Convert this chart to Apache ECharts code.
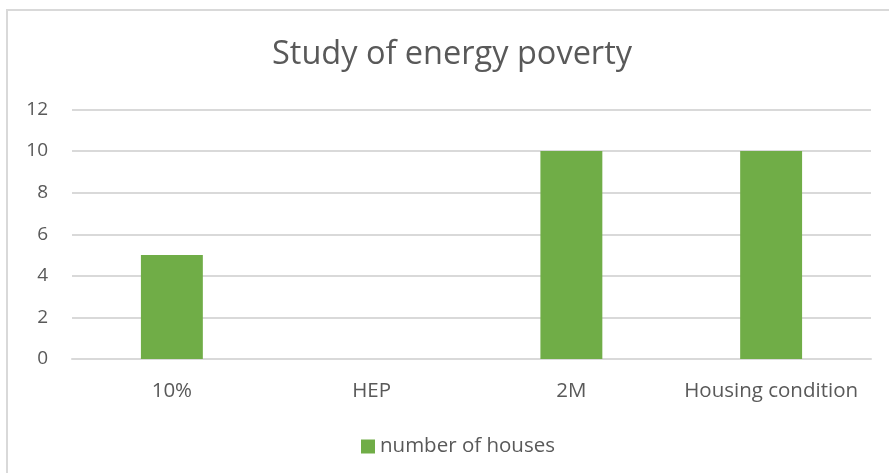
<!DOCTYPE html>
<html>
<head>
<meta charset="utf-8">
<script src="https://cdn.jsdelivr.net/npm/echarts@6/dist/echarts.min.js"></script>
<style>
html,body{margin:0;padding:0;background:#fff;}
#frame{position:absolute;left:6px;top:9px;width:900px;height:480px;border:2px solid #d9d9d9;box-sizing:border-box;}
#chart{position:absolute;left:0;top:0;width:889px;height:473px;}
</style>
</head>
<body>
<div id="frame"></div>
<div id="chart"></div>
<script>
const categories = ['10%', 'HEP', '2M', 'Housing condition'];
const houses = [5, 0, 10, 10];
const seriesName = 'number of houses';
const titleText = 'Study of energy poverty';

const chart = echarts.init(document.getElementById('chart'), null, {renderer: 'canvas'});
const font = '"Open Sans", "Noto Sans", sans-serif';
chart.setOption({
  animation: false,
  backgroundColor: 'transparent',
  title: {
    text: titleText,
    left: 272,
    top: 38,
    padding: 0,
    textStyle: {fontFamily: font, fontSize: 32.5, fontWeight: 'normal', color: '#595959'}
  },
  legend: {
    data: [seriesName],
    bottom: 11,
    left: 356,
    icon: 'rect',
    itemWidth: 14,
    itemHeight: 14,
    itemGap: 6,
    textStyle: {fontFamily: font, fontSize: 20.5, color: '#595959'}
  },
  grid: {left: 72, right: 18, top: 109.5, bottom: 114, containLabel: false},
  xAxis: {
    type: 'category',
    data: categories,
    axisLine: {lineStyle: {color: '#d9d9d9', width: 2}},
    axisTick: {show: false},
    axisLabel: {interval: 0, fontFamily: font, fontSize: 20.5, color: '#595959', margin: 22}
  },
  yAxis: {
    type: 'value',
    min: 0, max: 12, interval: 2,
    axisLine: {show: false},
    axisTick: {show: false},
    splitLine: {lineStyle: {color: '#d9d9d9', width: 2}},
    axisLabel: {fontFamily: font, fontSize: 19, color: '#595959', margin: 24}
  },
  series: [{
    name: seriesName,
    type: 'bar',
    data: houses,
    barWidth: '31%',
    itemStyle: {color: '#70ad47'}
  }]
});
</script>
</body>
</html>
